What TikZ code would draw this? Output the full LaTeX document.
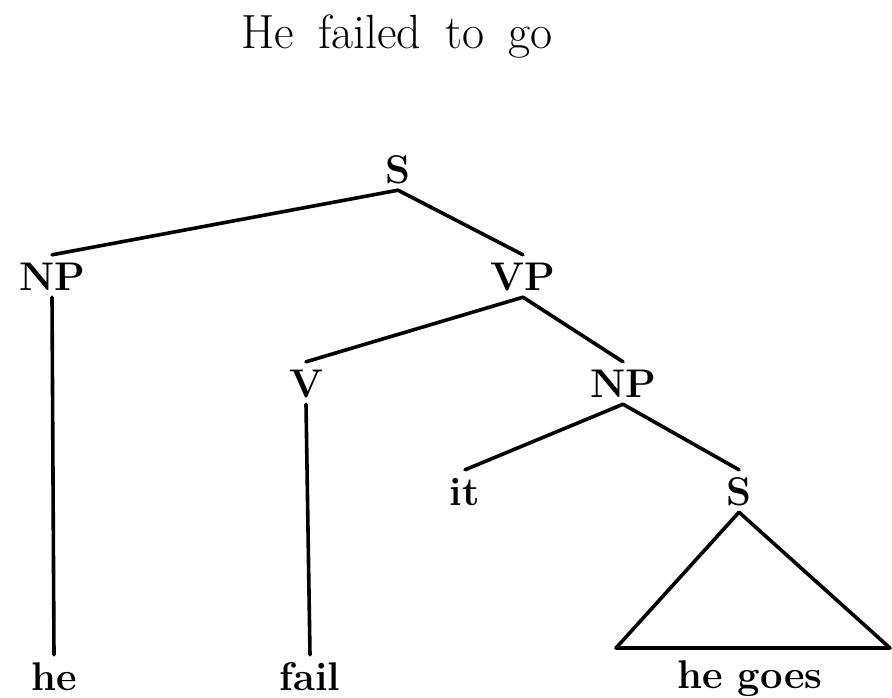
\documentclass[tikz,border=0pt]{standalone}
\begin{document}
\begin{tikzpicture}[x=1pt,y=-1pt,
  lab/.style={anchor=base, font=\fontsize{40}{48}\selectfont\bfseries,
    text height=28pt, text depth=0pt, inner xsep=0pt, inner ysep=7pt},
  edge/.style={line width=3.6pt, line cap=round, line join=round}]
\useasboundingbox (0,0) rectangle (892,697);
\node[anchor=base, font=\fontsize{48}{56}\selectfont, inner sep=0pt] (title) at (397,48) {\spaceskip=24pt He failed to go};
\node[lab] (S) at (398,183) {S};
\node[lab] (NP) at (52,290) {NP};
\node[lab] (VP) at (523,290) {VP};
\node[lab] (V) at (306,397) {V};
\node[lab] (NP2) at (623,397) {NP};
\node[lab] (it) at (465,505) {it};
\node[lab] (S2) at (739,505) {S};
\node[lab] (he) at (54,690) {he};
\node[lab] (fail) at (310,690) {fail};
\node[lab] (hegoes) at (750,688) {he goes};
\coordinate (tl) at (616,648);
\coordinate (tr) at (890,648);
\draw[edge] (S.south) -- (NP.north);
\draw[edge] (S.south) -- (VP.north);
\draw[edge] (NP.south) -- (he.north);
\draw[edge] (VP.south) -- (V.north);
\draw[edge] (VP.south) -- (NP2.north);
\draw[edge] (V.south) -- (fail.north);
\draw[edge] (NP2.south) -- (it.north);
\draw[edge] (NP2.south) -- (S2.north);
\draw[edge] (S2.south) -- (tl) -- (tr) -- cycle;
\end{tikzpicture}
\end{document}
